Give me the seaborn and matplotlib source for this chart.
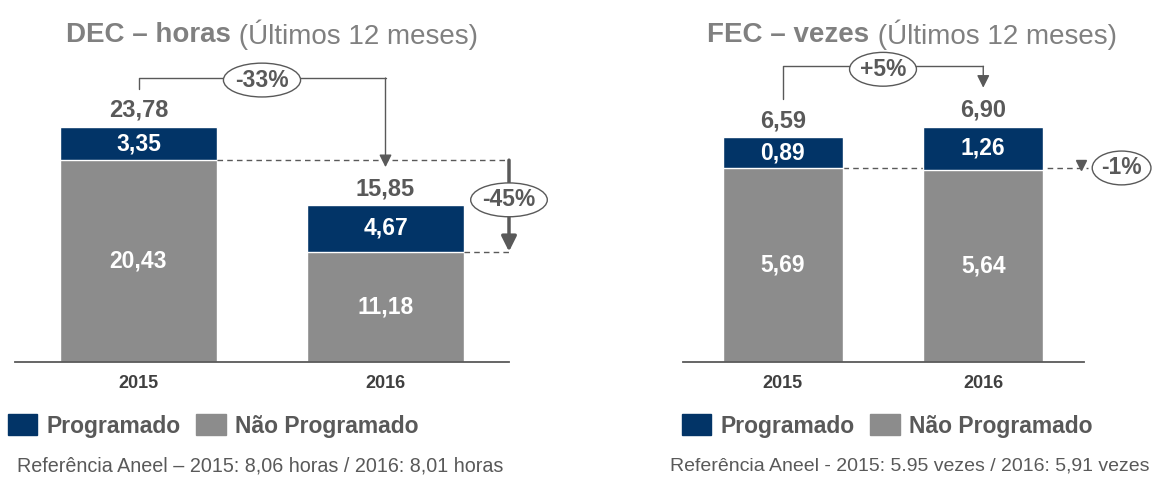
import numpy as np
import pandas as pd
import matplotlib
matplotlib.use('Agg')
import matplotlib.pyplot as plt
import seaborn as sns
from matplotlib.patches import Patch

# dados
anos = ['2015', '2016']
dec_programado = [3.35, 4.67]
dec_nao_programado = [20.43, 11.18]
dec_total = [23.78, 15.85]
fec_programado = [0.89, 1.26]
fec_nao_programado = [5.69, 5.64]
fec_total = [6.59, 6.90]
legenda = ['Programado', 'Não Programado']
rodape_dec = 'Referência Aneel – 2015: 8,06 horas / 2016: 8,01 horas'
rodape_fec = 'Referência Aneel - 2015: 5.95 vezes / 2016: 5,91 vezes'

AZUL = '#023467'
CINZA = '#8c8c8c'
TEXTO = '#595959'
TITULO = '#808080'

sns.set_style('white')
plt.rcParams['font.family'] = ['Liberation Sans', 'DejaVu Sans']

W, H = 1157, 478
fig = plt.figure(figsize=(W / 100, H / 100), dpi=100)


def rect(x0, x1, ytop, ybot):
    return [x0 / W, (H - ybot) / H, (x1 - x0) / W, (ybot - ytop) / H]


def px(ax, n):
    y0, y1 = ax.get_ylim()
    return n * (y1 - y0) / (ax.get_position().height * H)


def fmt(v):
    return f'{v:.2f}'.replace('.', ',')


def pct(a, b):
    return f'{(b / a - 1) * 100:+.0f}%'


def barras(ax, total, nao, prog, largura, ymax):
    sns.barplot(x=anos, y=total, color=AZUL, width=largura, saturation=1,
                edgecolor='white', linewidth=1, ax=ax)
    sns.barplot(x=anos, y=nao, color=CINZA, width=largura, saturation=1,
                edgecolor='white', linewidth=1, ax=ax)
    ax.set_xlim(-0.5, 1.5)
    ax.set_ylim(0, ymax)
    ax.set_yticks([])
    ax.set_xlabel('')
    ax.set_ylabel('')
    ax.tick_params(axis='x', length=0, pad=9, labelsize=13, labelcolor='#404040')
    for lbl in ax.get_xticklabels():
        lbl.set_fontweight('bold')
    for s in ['top', 'right', 'left']:
        ax.spines[s].set_visible(False)
    ax.spines['bottom'].set_color(TEXTO)
    ax.spines['bottom'].set_linewidth(1.3)
    for i in range(len(anos)):
        ax.annotate(fmt(total[i]), (i, total[i]), xytext=(0, 12), textcoords='offset points',
                    ha='center', va='center', fontsize=17, weight='bold', color=TEXTO)
        ax.text(i, nao[i] + (total[i] - nao[i]) / 2, fmt(prog[i]), ha='center', va='center',
                fontsize=16.5, weight='bold', color='white')
        ax.text(i, nao[i] / 2, fmt(nao[i]), ha='center', va='center',
                fontsize=16.5, weight='bold', color='white')


def elipse(ax, x, y, texto):
    ax.text(x, y, texto, ha='center', va='center', fontsize=16.5, weight='bold', color=TEXTO,
            zorder=6, clip_on=False,
            bbox=dict(boxstyle='ellipse,pad=0.02', fc='white', ec=TEXTO, lw=1))


def seta(ax, x, y_de, y_ate, lw=1, hl=0.5, hw=0.25):
    ax.annotate('', xy=(x, y_ate), xytext=(x, y_de), annotation_clip=False,
                arrowprops=dict(arrowstyle=f'-|>,head_length={hl},head_width={hw}',
                                mutation_scale=15, lw=lw, color=TEXTO, shrinkA=0, shrinkB=0))


def titulo(cx, cy, negrito, resto):
    t1 = fig.text(0, 0, negrito, fontsize=20, weight='bold', color=TITULO, va='center')
    t2 = fig.text(0, 0, resto, fontsize=20, color=TITULO, va='center')
    r = fig.canvas.get_renderer()
    w1 = t1.get_window_extent(r).width
    w2 = t2.get_window_extent(r).width
    x0 = cx - (w1 + w2) / 2
    t1.set_position((x0 / W, (H - cy) / H))
    t2.set_position(((x0 + w1) / W, (H - cy) / H))


# DEC
ax1 = fig.add_axes(rect(15, 509, 40, 362))
w1 = 0.636
barras(ax1, dec_total, dec_nao_programado, dec_programado, w1, 322 / 9.88)

y_ini = dec_total[0] + px(ax1, 38)
y_top = dec_total[0] + px(ax1, 49)
ax1.plot([0, 0, 1], [y_ini, y_top, y_top], color=TEXTO, lw=1, clip_on=False)
seta(ax1, 1, y_top, dec_nao_programado[0] - px(ax1, 7))
elipse(ax1, 0.5, y_top - px(ax1, 2), pct(dec_total[0], dec_total[1]))

ax1.plot([w1 / 2, 1.5], [dec_nao_programado[0]] * 2, color=TEXTO, lw=1,
         ls=(0, (4, 3)), clip_on=False)
ax1.plot([1 + w1 / 2, 1.5], [dec_nao_programado[1]] * 2, color=TEXTO, lw=1,
         ls=(0, (4, 3)), clip_on=False)
seta(ax1, 1.5, dec_nao_programado[0], dec_nao_programado[1], lw=2.5, hl=0.6, hw=0.3)
elipse(ax1, 1.5, (dec_nao_programado[0] + dec_nao_programado[1]) / 2 + px(ax1, 6),
       pct(dec_nao_programado[0], dec_nao_programado[1]))

# FEC
ax2 = fig.add_axes(rect(682.5, 1083.5, 40, 362))
w2 = 0.6
barras(ax2, fec_total, fec_nao_programado, fec_programado, w2, 322 / 34.1)

y_ini = fec_total[0] + px(ax2, 38)
y_top = fec_total[0] + px(ax2, 71)
ax2.plot([0, 0, 1], [y_ini, y_top, y_top], color=TEXTO, lw=1, clip_on=False)
seta(ax2, 1, y_top, fec_total[1] + px(ax2, 39))
elipse(ax2, 0.5, y_top - px(ax2, 3), pct(fec_total[0], fec_total[1]))

ax2.plot([w2 / 2, 1.52], [fec_nao_programado[0]] * 2, color=TEXTO, lw=1,
         ls=(0, (4, 3)), clip_on=False, zorder=0.5)
ax2.plot([1.49], [fec_nao_programado[1] + px(ax2, 5)], marker='v', ms=7, color=TEXTO,
         clip_on=False)
elipse(ax2, 1.69, fec_nao_programado[0], pct(fec_nao_programado[0], fec_nao_programado[1]))

# títulos
titulo(272, 35, 'DEC – horas', ' (Últimos 12 meses)')
titulo(912, 35, 'FEC – vezes', ' (Últimos 12 meses)')

# legendas
handles = [Patch(color=AZUL), Patch(color=CINZA)]
for lx in (8, 682):
    fig.legend(handles, legenda, loc='center left', bbox_to_anchor=(lx / W, (H - 426) / H),
               ncol=2, frameon=False, prop=dict(size=16.5, weight='bold'), labelcolor=TEXTO,
               handlelength=1.27, handleheight=1.0, handletextpad=0.4, columnspacing=0.7,
               borderpad=0, borderaxespad=0)

# rodapé
fig.text(17 / W, (H - 466) / H, rodape_dec, fontsize=14.2, color=TEXTO, va='center')
fig.text(670 / W, (H - 466) / H, rodape_fec, fontsize=14, color=TEXTO, va='center')

fig.savefig('out.png', dpi=100)
